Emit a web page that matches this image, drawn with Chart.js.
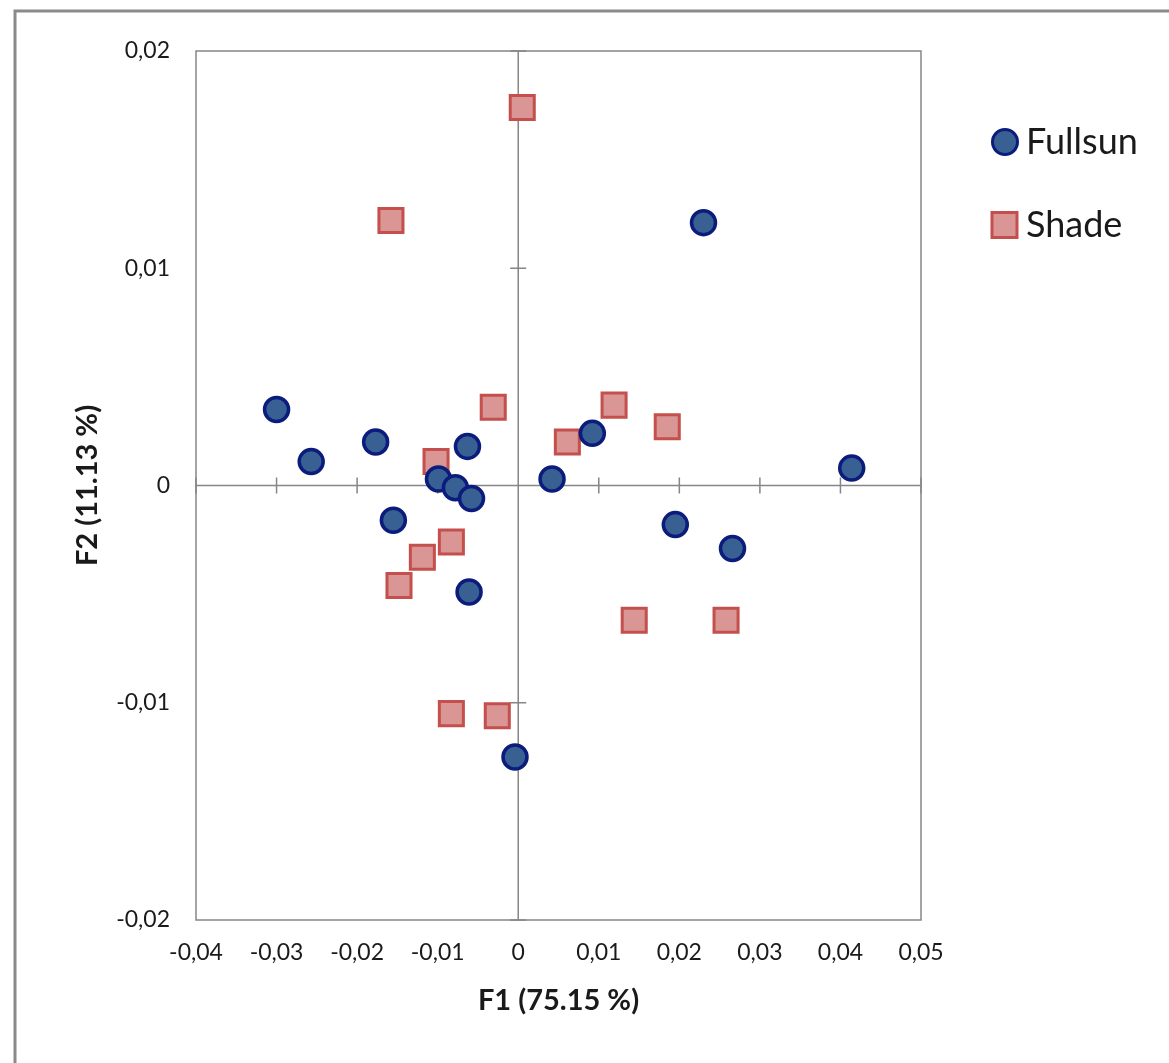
<!DOCTYPE html>
<html>
<head>
  <meta charset="UTF-8">
  <title>F1 / F2</title>
  <script src="https://cdn.jsdelivr.net/npm/chart.js"></script>
  <style>
    body { margin: 0; background: #ffffff; }
    #wrap { width: 1169px; height: 1063px; }
  </style>
</head>
<body>
<div id="wrap">
  <canvas id="chart" width="1169" height="1063"></canvas>
</div>
<script>
  // valeurs
  const fullsunX = [-0.0300, -0.0257, -0.0177, -0.0063, -0.0099, -0.0078, -0.0058, -0.0155, -0.0061, -0.0004, 0.0042, 0.0092, 0.0230, 0.0195, 0.0266, 0.0414];
  const fullsunY = [0.0035, 0.0011, 0.0020, 0.0018, 0.0003, -0.0001, -0.0006, -0.0016, -0.0049, -0.0125, 0.0003, 0.0024, 0.0121, -0.0018, -0.0029, 0.0008];
  const shadeX = [0.0005, -0.0158, -0.0031, -0.0102, 0.0119, 0.0061, 0.0185, -0.0083, -0.0119, -0.0148, -0.0083, -0.0026, 0.0144, 0.0258];
  const shadeY = [0.0174, 0.0122, 0.0036, 0.0011, 0.0037, 0.0020, 0.0027, -0.0026, -0.0033, -0.0046, -0.0105, -0.0106, -0.0062, -0.0062];

  const xTickValues = [-0.04, -0.03, -0.02, -0.01, 0, 0.01, 0.02, 0.03, 0.04, 0.05];
  const xTickLabels = ['-0,04', '-0,03', '-0,02', '-0,01', '0', '0,01', '0,02', '0,03', '0,04', '0,05'];
  const yTickValues = [-0.02, -0.01, 0, 0.01, 0.02];
  const yTickLabels = ['-0,02', '-0,01', '0', '0,01', '0,02'];

  const FONT = 'Lato, "Open Sans", sans-serif';
  const GRIS = '#868686';

  const toPoints = (xs, ys) => xs.map((x, i) => ({ x: x, y: ys[i] }));

  // axes en croix, bordure de la zone, cadre extérieur et légende
  const decor = {
    id: 'decor',
    beforeDatasetsDraw(chart) {
      const { ctx, chartArea: a, scales: { x, y } } = chart;
      const x0 = x.getPixelForValue(0);
      const y0 = y.getPixelForValue(0);
      ctx.save();
      ctx.strokeStyle = GRIS;
      ctx.lineWidth = 1.5;
      ctx.strokeRect(a.left, a.top, a.right - a.left, a.bottom - a.top);
      ctx.beginPath();
      ctx.moveTo(a.left, y0); ctx.lineTo(a.right, y0);
      ctx.moveTo(x0, a.top); ctx.lineTo(x0, a.bottom);
      xTickValues.forEach(v => {
        const px = x.getPixelForValue(v);
        ctx.moveTo(px, y0 - 8); ctx.lineTo(px, y0 + 8);
      });
      yTickValues.forEach(v => {
        const py = y.getPixelForValue(v);
        ctx.moveTo(x0 - 8, py); ctx.lineTo(x0 + 8, py);
      });
      ctx.stroke();
      ctx.restore();
    },
    afterDraw(chart) {
      const ctx = chart.ctx;
      ctx.save();
      // cadre extérieur
      ctx.strokeStyle = '#8a8a8a';
      ctx.lineWidth = 3;
      ctx.beginPath();
      ctx.moveTo(15, chart.height); ctx.lineTo(15, 11); ctx.lineTo(chart.width, 11);
      ctx.stroke();
      // légende
      const rows = [142, 225];
      chart.data.datasets.forEach((ds, i) => {
        const cy = rows[i];
        ctx.fillStyle = ds.backgroundColor;
        ctx.strokeStyle = ds.borderColor;
        ctx.lineWidth = 3;
        if (ds.pointStyle === 'circle') {
          ctx.beginPath();
          ctx.arc(1005, cy, 12.5, 0, Math.PI * 2);
          ctx.fill(); ctx.stroke();
        } else {
          ctx.fillRect(992, cy - 12.5, 25, 25);
          ctx.strokeRect(992, cy - 12.5, 25, 25);
        }
        ctx.fillStyle = '#1a1a1a';
        ctx.font = '36px ' + FONT;
        ctx.textBaseline = 'middle';
        ctx.textAlign = 'left';
        ctx.fillText(ds.label, 1026, cy);
      });
      ctx.restore();
    }
  };

  new Chart(document.getElementById('chart'), {
    type: 'scatter',
    data: {
      datasets: [
        {
          label: 'Fullsun',
          data: toPoints(fullsunX, fullsunY),
          pointStyle: 'circle',
          pointRadius: 12,
          pointHoverRadius: 12,
          borderWidth: 3.5,
          backgroundColor: '#386093',
          borderColor: '#0b1c7c'
        },
        {
          label: 'Shade',
          data: toPoints(shadeX, shadeY),
          pointStyle: 'rect',
          pointRadius: 17,
          pointHoverRadius: 17,
          borderWidth: 3,
          backgroundColor: '#d99694',
          borderColor: '#c44f4c'
        }
      ]
    },
    options: {
      responsive: false,
      animation: false,
      layout: { padding: { left: 0, top: 51, right: 248, bottom: 0 } },
      plugins: {
        legend: { display: false },
        tooltip: { enabled: false }
      },
      scales: {
        x: {
          type: 'linear',
          min: -0.04,
          max: 0.05,
          grid: { display: false, drawTicks: false },
          border: { display: false },
          afterBuildTicks: s => { s.ticks = xTickValues.map(v => ({ value: v })); },
          afterFit: s => { s.height = 143; },
          ticks: {
            padding: 19,
            maxRotation: 0,
            autoSkip: false,
            color: '#1a1a1a',
            font: { family: FONT, size: 23 },
            callback: (v, i) => xTickLabels[i]
          },
          title: {
            display: true,
            text: 'F1 (75.15 %)',
            color: '#1a1a1a',
            font: { family: FONT, size: 29, weight: 'bold' },
            padding: { top: 0, bottom: 45 }
          }
        },
        y: {
          type: 'linear',
          min: -0.02,
          max: 0.02,
          grid: { display: false, drawTicks: false },
          border: { display: false },
          afterBuildTicks: s => { s.ticks = yTickValues.map(v => ({ value: v })); },
          afterFit: s => { s.width = 196; },
          ticks: {
            padding: 26,
            autoSkip: false,
            color: '#1a1a1a',
            font: { family: FONT, size: 23 },
            callback: (v, i) => yTickLabels[i]
          },
          title: {
            display: true,
            text: 'F2 (11.13 %)',
            color: '#1a1a1a',
            font: { family: FONT, size: 29, weight: 'bold' },
            padding: { top: 70, bottom: 0 }
          }
        }
      }
    },
    plugins: [decor]
  });
</script>
</body>
</html>
